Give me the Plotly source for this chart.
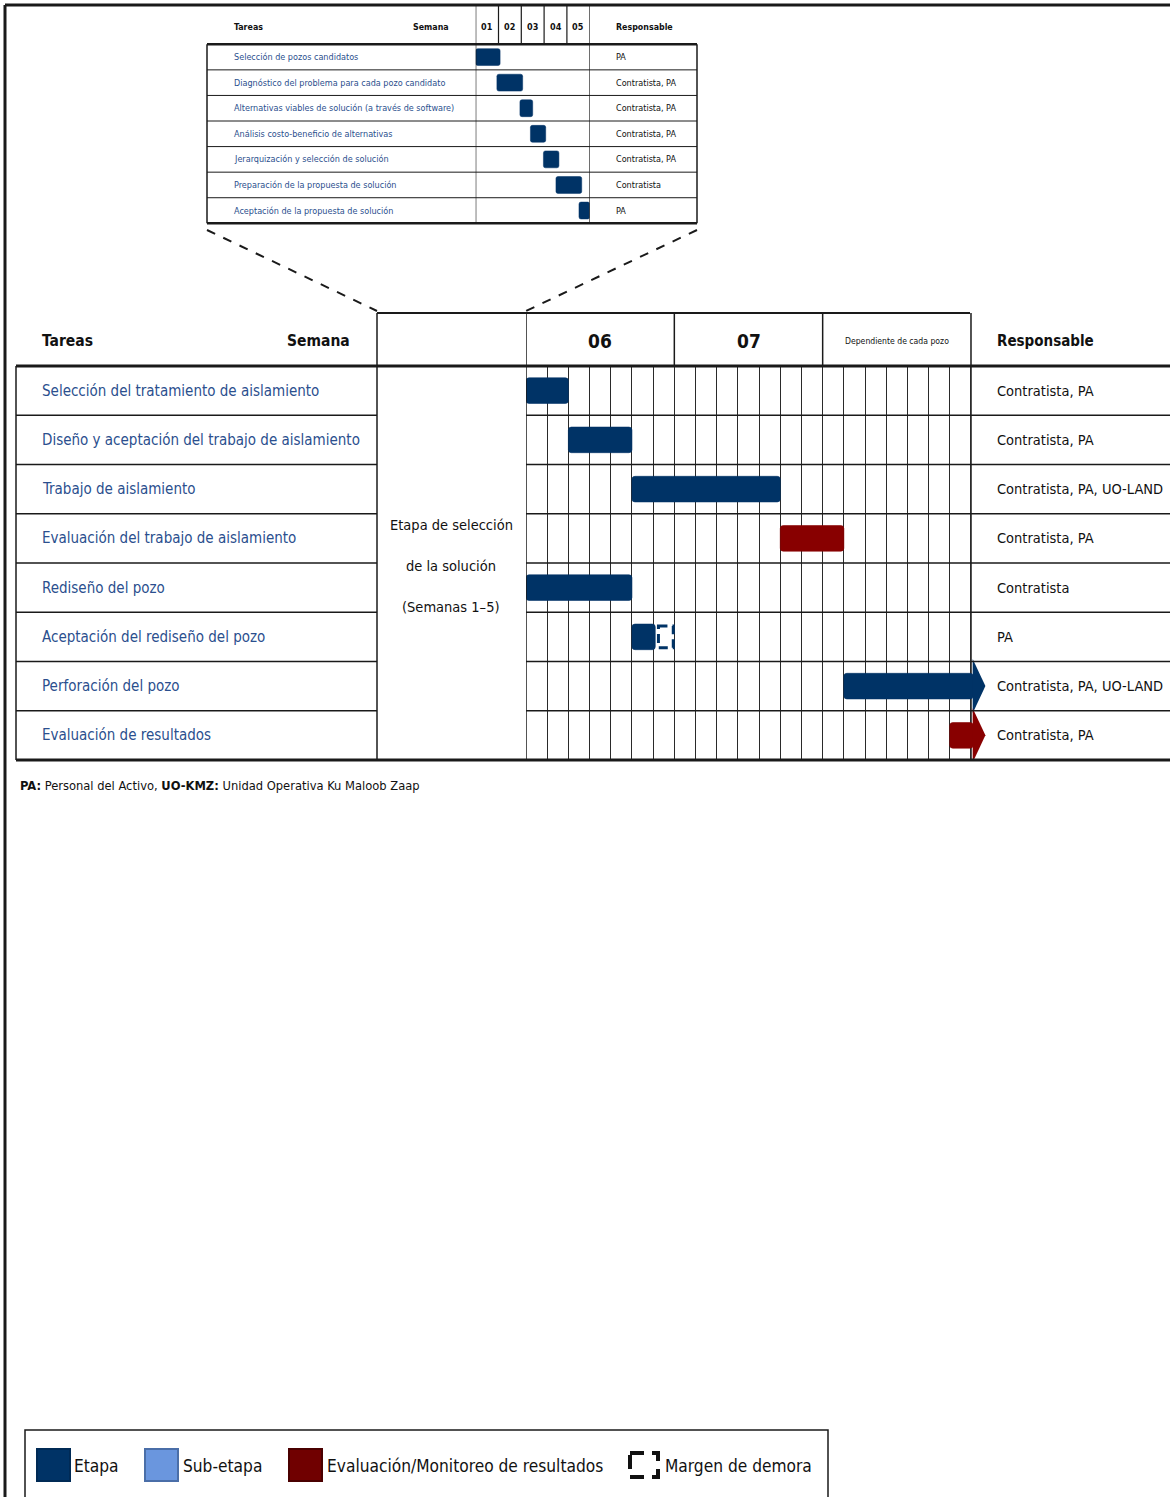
import plotly.graph_objects as go

# ---------------- DATA ----------------
mini_tasks = [
    "Selección de pozos candidatos",
    "Diagnóstico del problema para cada pozo candidato",
    "Alternativas viables de solución (a través de software)",
    "Análisis costo-beneficio de alternativas",
    "Jerarquización y selección de solución",
    "Preparación de la propuesta de solución",
    "Aceptación de la propuesta de solución",
]
mini_resp = ["PA", "Contratista, PA", "Contratista, PA", "Contratista, PA",
             "Contratista, PA", "Contratista", "PA"]
mini_start = [0.0, 0.93, 1.94, 2.40, 2.97, 3.52, 4.53]   # weeks from start of week 01
mini_end = [1.07, 2.06, 2.50, 3.07, 3.65, 4.65, 5.00]
mini_weeks = ["01", "02", "03", "04", "05"]

main_tasks = [
    "Selección del tratamiento de aislamiento",
    "Diseño y aceptación del trabajo de aislamiento",
    "Trabajo de aislamiento",
    "Evaluación del trabajo de aislamiento",
    "Rediseño del pozo",
    "Aceptación del rediseño del pozo",
    "Perforación del pozo",
    "Evaluación de resultados",
]
main_resp = ["Contratista, PA", "Contratista, PA", "Contratista, PA, UO-LAND",
             "Contratista, PA", "Contratista", "PA",
             "Contratista, PA, UO-LAND", "Contratista, PA"]
main_start = [0, 2, 5, 12, 0, 5, 15, 20]          # days from start of week 06
main_end = [2, 5, 12, 15, 5, 6.1, 21.1, 21.1]
main_kind = ["Etapa", "Etapa", "Etapa", "Evaluación", "Etapa", "Etapa", "Etapa", "Evaluación"]
main_margin_end = [None, None, None, None, None, 6.95, None, None]
main_arrow = [False, False, False, False, False, False, True, True]
main_periods = ["06", "07", "Dependiente de cada pozo"]
days_per_period = 7

legend_labels = ["Etapa", "Sub-etapa", "Evaluación/Monitoreo de resultados", "Margen de demora"]
footnote = "<b>PA:</b> Personal del Activo, <b>UO-KMZ:</b> Unidad Operativa Ku Maloob Zaap"
stage_text = ["Etapa de selección", "de la solución", "(Semanas 1–5)"]

# ---------------- STYLE / LAYOUT ----------------
W, H = 1170, 1497
NARROW = "DejaVu Sans Condensed, Liberation Sans Narrow, sans-serif"
C_ETAPA = "#003366"
C_SUB = "#6A96DE"
C_EVAL = "#880000"
C_TASK = "#2B4F8E"
C_LINE = "#1a1a1a"
kind_color = {"Etapa": C_ETAPA, "Sub-etapa": C_SUB, "Evaluación": C_EVAL}

def pyd(p):  # pixel y -> paper fraction
    return 1 - p / H

# main gantt geometry (pixels)
MX0, DAYPX = 526.0, 21.19
MY0, MY1 = 366.0, 760.0
nrow = len(main_tasks)
ndays = days_per_period * len(main_periods)
xr2 = ndays + 0.75
# mini gantt geometry
mX0, mX1 = 475.7, 589.7
mY0, mY1 = 44.3, 223.3
nmini = len(mini_tasks)

fig = go.Figure()

# canvas helper trace
fig.add_trace(go.Scatter(x=[0], y=[0], mode="markers", marker=dict(opacity=0),
                         hoverinfo="skip", showlegend=False, xaxis="x", yaxis="y"))

# main bars
for k in ["Etapa", "Evaluación"]:
    idx = [i for i in range(nrow) if main_kind[i] == k]
    fig.add_trace(go.Bar(
        orientation="h", xaxis="x2", yaxis="y2",
        y=idx, base=[main_start[i] for i in idx],
        x=[main_end[i] - main_start[i] for i in idx],
        width=0.52, marker=dict(color=kind_color[k], line=dict(width=0.6, color=kind_color[k]),
                                cornerradius=3),
        showlegend=False, hoverinfo="skip"))

# arrow heads
for i in range(nrow):
    if main_arrow[i]:
        e = main_end[i]
        fig.add_trace(go.Scatter(
            x=[e - 0.02, e + 0.58, e - 0.02, e - 0.02],
            y=[i - 0.55, i, i + 0.55, i - 0.55],
            mode="lines", fill="toself", fillcolor=kind_color[main_kind[i]],
            line=dict(width=0, color=kind_color[main_kind[i]]),
            xaxis="x2", yaxis="y2", showlegend=False, hoverinfo="skip"))

# mini bars
fig.add_trace(go.Bar(
    orientation="h", xaxis="x3", yaxis="y3",
    y=list(range(nmini)), base=mini_start,
    x=[e - s for s, e in zip(mini_start, mini_end)],
    width=0.66, marker=dict(color=C_ETAPA, line=dict(width=0.5, color=C_ETAPA), cornerradius=2),
    showlegend=False, hoverinfo="skip"))

shapes = []
ann = []

def line(x0, y0, x1, y1, w=1.5, color=C_LINE, dash=None, xref="x", yref="y", layer="above"):
    d = dict(type="line", x0=x0, y0=y0, x1=x1, y1=y1, xref=xref, yref=yref, layer=layer,
             line=dict(width=w, color=color))
    if dash:
        d["line"]["dash"] = dash
    shapes.append(d)

def text(x, y, s, size, color="#111", xanchor="left", xref="x", yref="y", bold=False):
    ann.append(dict(x=x, y=y, xref=xref, yref=yref, text=(f"<b>{s}</b>" if bold else s),
                    showarrow=False, xanchor=xanchor, yanchor="middle",
                    font=dict(family=NARROW, size=size, color=color)))

# outer frame
line(5, 5, W, 5, w=3)
line(5, 5, 5, H, w=3)

# ---- mini table ----
line(207, mY0, 697, mY0, w=2.5)
line(207, mY1, 697, mY1, w=2.5)
for i in range(1, nmini):
    line(207, i - 0.5, 697, i - 0.5, w=1, yref="y3")
line(207, mY0, 207, mY1, w=1.5)
line(697, mY0, 697, mY1, w=1.5)
for k in range(len(mini_weeks) + 1):
    line(k, 5, k, mY0 if 0 < k < len(mini_weeks) else mY1, w=1.2, xref="x3")
text(232, 27, "Tareas", 8.8, bold=True)
text(451, 27, "Semana", 8.8, bold=True, xanchor="right")
text(614, 27, "Responsable", 8.8, bold=True)
for k, wlab in enumerate(mini_weeks):
    text(k + 0.5, 27, wlab, 9, bold=True, xanchor="center", xref="x3")
for i in range(nmini):
    text(232, i, mini_tasks[i], 9, color=C_TASK, yref="y3")
    text(614, i, mini_resp[i], 9, yref="y3")

# zoom dashed lines
line(207, 230, 377, 311, w=2, dash="dash")
line(697, 230, 526, 311, w=2, dash="dash")

# ---- main table ----
line(377, 313, 970, 313, w=2)
line(377, 313, 377, MY1, w=1.5)
line(0, 313, 0, MY1, w=1.5, xref="x2")
line(ndays, 313, ndays, MY1, w=1.5, xref="x2", layer="below")
for p in range(1, len(main_periods)):
    line(p * days_per_period, 313, p * days_per_period, MY0, w=1.5, xref="x2")
line(16, MY0, W, MY0, w=2.8)
line(16, MY1, W, MY1, w=2.8)
line(16, MY0, 16, MY1, w=1.5)
for i in range(1, nrow):
    line(16, i - 0.5, 377, i - 0.5, w=1.3, yref="y2")
    line(MX0, i - 0.5, W, i - 0.5, w=1.3, yref="y2")

text(40, 341, "Tareas", 15.5, bold=True)
text(352, 341, "Semana", 15.5, bold=True, xanchor="right")
text(995, 341, "Responsable", 15, bold=True)
for p, lab in enumerate(main_periods):
    big = len(lab) <= 3
    text(p * days_per_period + days_per_period / 2, 341, lab, 19 if big else 8.6,
         bold=big, xanchor="center", xref="x2")
for i in range(nrow):
    text(40, i, main_tasks[i], 15, color=C_TASK, yref="y2")
    text(995, i, main_resp[i], 14.5, yref="y2")
for j, s in enumerate(stage_text):
    text(451, 525 + j * 41, s, 14.5, xanchor="center")

# margin de demora
for i in range(nrow):
    if main_margin_end[i] is not None:
        shapes.append(dict(type="rect", xref="x2", yref="y2", x0=main_end[i] + 0.15,
                           x1=main_margin_end[i], y0=i - 0.22, y1=i + 0.22,
                           line=dict(width=3, color=C_ETAPA, dash="9px,5px"),
                           fillcolor="rgba(0,0,0,0)"))

# footnote
ann.append(dict(x=18, y=785, xref="x", yref="y", text=footnote, showarrow=False,
                xanchor="left", yanchor="middle", font=dict(family=NARROW, size=12.8, color="#111")))

# ---- legend ----
shapes.append(dict(type="rect", xref="x", yref="y", x0=25, x1=828, y0=1430, y1=1505,
                   line=dict(width=1.5, color=C_LINE), fillcolor="rgba(0,0,0,0)"))
sw = [(37, C_ETAPA, "#002a55"), (145, C_SUB, "#4A6EA8"), (289, "#700000", "#4a0000")]
for (x0, fc, lc) in sw:
    shapes.append(dict(type="rect", xref="x", yref="y", x0=x0, x1=x0 + 33, y0=1449, y1=1481,
                       line=dict(width=2, color=lc), fillcolor=fc))
shapes.append(dict(type="rect", xref="x", yref="y", x0=630, x1=658, y0=1453, y1=1477,
                   line=dict(width=4, color="#111", dash="14px,8px"), fillcolor="rgba(0,0,0,0)"))
leg_x = [72, 181, 325, 663]
for lx, lab in zip(leg_x, legend_labels):
    text(lx, 1466, lab, 17.2)

fig.update_layout(
    width=W, height=H, margin=dict(l=0, r=0, t=0, b=0, pad=0),
    paper_bgcolor="white", plot_bgcolor="rgba(0,0,0,0)",
    barmode="overlay", showlegend=False,
    xaxis=dict(domain=[0, 1], range=[0, W], visible=False, fixedrange=True),
    yaxis=dict(domain=[0, 1], range=[H, 0], visible=False, fixedrange=True),
    xaxis2=dict(domain=[MX0 / W, (MX0 + xr2 * DAYPX) / W], range=[0, xr2], anchor="y2",
                showgrid=True, dtick=1, tick0=0, gridcolor="#2a2a2a", gridwidth=1,
                zeroline=False, showticklabels=False, ticks="", showline=False, fixedrange=True),
    yaxis2=dict(domain=[pyd(MY1), pyd(MY0)], range=[nrow - 0.5, -0.5], anchor="x2",
                showgrid=False, zeroline=False, showticklabels=False, ticks="", fixedrange=True),
    xaxis3=dict(domain=[mX0 / W, mX1 / W], range=[0, len(mini_weeks)], anchor="y3",
                showgrid=False, zeroline=False, showticklabels=False, ticks="", fixedrange=True),
    yaxis3=dict(domain=[pyd(mY1), pyd(mY0)], range=[nmini - 0.5, -0.5], anchor="x3",
                showgrid=False, zeroline=False, showticklabels=False, ticks="", fixedrange=True),
    shapes=shapes, annotations=ann,
)

fig.write_html("out.html", config={"displayModeBar": False},
               post_script="document.body.style.margin='0';document.body.style.padding='0';")
